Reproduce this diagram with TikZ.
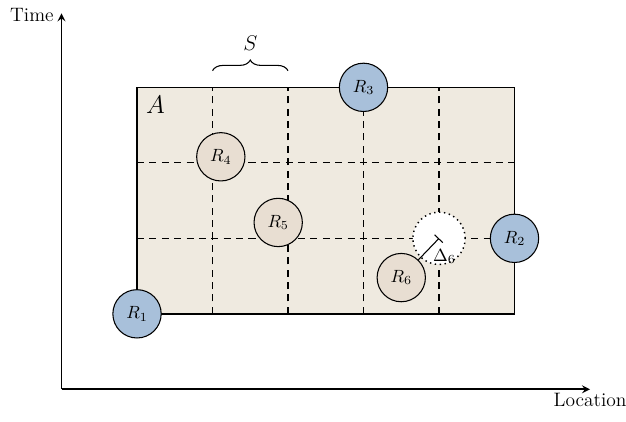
\documentclass[tikz,border=0pt]{standalone}
\usepackage{amsmath}
\usepackage{amssymb}
\usepackage{xcolor}
\usepackage{tikz}
\usetikzlibrary{%
  arrows,%
  calc,%
  positioning,%
  decorations.pathreplacing}

\definecolor{fond}{RGB}{239,234,224}
\definecolor{bleu}{RGB}{168,192,218}
\definecolor{sable}{RGB}{232,222,210}

\tikzset{
  ressource/.style={circle, draw, line width=0.6pt, minimum size=0.96cm, inner sep=0pt, font=\fontsize{10}{12}\selectfont},
  fixe/.style={ressource, fill=bleu},
  mobile/.style={ressource, fill=sable},
  grille/.style={line width=0.6pt, dash pattern=on 4pt off 3pt},
  axe/.style={line width=1pt, ->, >=stealth},
}

\begin{document}
\begin{tikzpicture}
\begin{scope}[scale=1.5]
\useasboundingbox (-1.815,-1.42) rectangle (6.477,4.157);
% axes
\coordinate (O) at (-1,-1);
\coordinate (Y) at (-1,3.98);
\coordinate (X) at (6,-1);
\draw[axe] (O) -- (Y);
\draw[axe] (O) -- (X);
\node (T) at (-1.1,3.96) [anchor=east, inner sep=0pt, font=\fontsize{11}{13}\selectfont] {Time};
\node (L) at (X) [below, inner sep=2pt, font=\fontsize{11}{13}\selectfont] {Location};
% zone A et sa grille
\fill[fond] (0,0) rectangle (5,3);
\foreach \x in {1,2,3,4}
  \draw[grille] (\x,0) -- (\x,3);
\foreach \y in {1,2}
  \draw[grille] (0,\y) -- (5,\y);
\draw[line width=0.8pt] (0,0) rectangle (5,3);
\node (A) at (0,3) [anchor=north west, inner sep=5pt, font=\Large] {$A$};
% accolade S
\coordinate (S1) at (1,3.22);
\coordinate (S2) at (2,3.22);
\draw[decorate, decoration={brace, amplitude=6pt}, line width=0.6pt] (S1) -- (S2);
\node (S) at (1.5,3.58) [font=\large] {$S$};
% ressources
\node (D) at (4,1) [circle, draw, dotted, line width=0.8pt, fill=white, minimum size=1.04cm] {};
\node (R1) at (0,0) [fixe] {$R_1$};
\node (R2) at (5,1) [fixe] {$R_2$};
\node (R3) at (3,3) [fixe] {$R_3$};
\node (R4) at (1.11,2.08) [mobile] {$R_4$};
\node (R5) at (1.87,1.21) [mobile] {$R_5$};
\node (R6) at (3.5,0.48) [mobile] {$R_6$};
\draw[|-, line width=0.6pt] (D.center) -- (R6) node[pos=0.4, anchor=north west, inner sep=1pt, font=\fontsize{10}{12}\selectfont] {$\Delta_6$};
\end{scope}
\end{tikzpicture}
\end{document}
